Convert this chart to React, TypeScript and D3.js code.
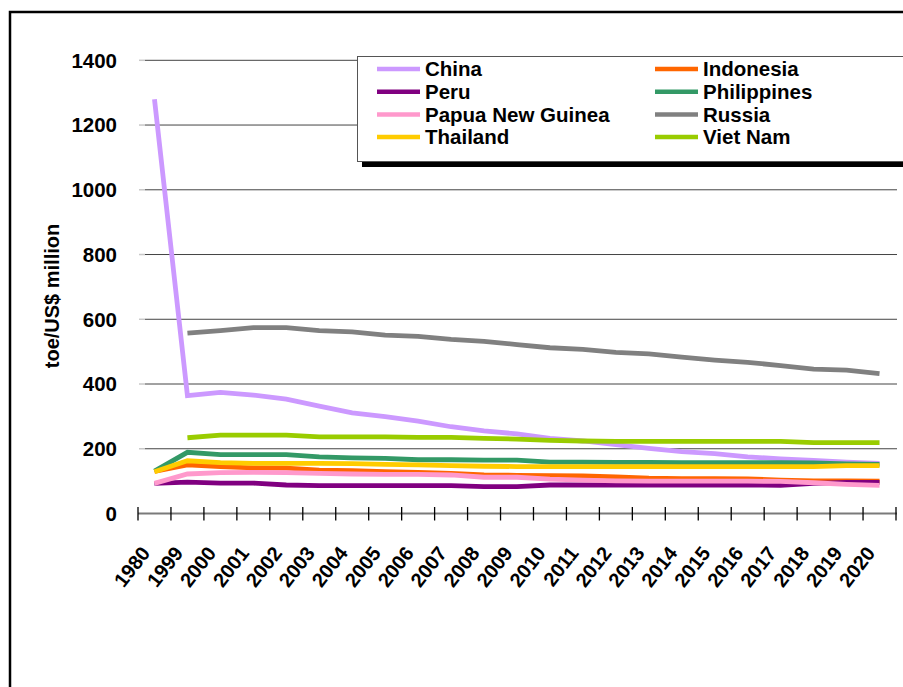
import React from 'react';
import * as d3 from 'd3';

const years = ['1980','1999','2000','2001','2002','2003','2004','2005','2006','2007','2008','2009','2010','2011','2012','2013','2014','2015','2016','2017','2018','2019','2020'];
const yTicks = [0, 200, 400, 600, 800, 1000, 1200, 1400];

const china = [1280, 364, 374, 366, 353, 332, 311, 299, 285, 268, 255, 246, 232, 224, 213, 201, 191, 185, 175, 169, 164, 159, 155];
const indonesia = [130, 150, 145, 141, 140, 134, 132, 129, 127, 124, 119, 118, 117, 116, 113, 109, 108, 108, 107, 103, 101, 101, 100];
const peru = [93, 97, 94, 94, 88, 86, 86, 86, 86, 86, 83, 83, 88, 88, 88, 88, 88, 88, 88, 87, 93, 96, 96];
const philippines = [131, 189, 182, 182, 182, 175, 172, 170, 166, 166, 165, 165, 159, 159, 158, 158, 157, 157, 157, 157, 156, 153, 152];
const papuaNewGuinea = [93, 122, 126, 127, 126, 124, 122, 121, 121, 119, 112, 112, 106, 103, 101, 100, 100, 100, 100, 99, 95, 90, 87];
const russia = [null, 557, 565, 574, 574, 565, 561, 551, 547, 538, 532, 522, 512, 507, 498, 493, 483, 474, 467, 457, 446, 443, 432];
const thailand = [129, 163, 157, 155, 155, 155, 154, 152, 150, 148, 146, 145, 145, 145, 145, 145, 145, 145, 145, 145, 145, 148, 148];
const vietNam = [null, 234, 242, 242, 242, 237, 237, 237, 235, 235, 232, 230, 226, 224, 223, 223, 223, 223, 223, 223, 219, 219, 219];

const seriesNames = ['China', 'Indonesia', 'Peru', 'Philippines', 'Papua New Guinea', 'Russia', 'Thailand', 'Viet Nam'];
const seriesColors = ['#CC99FF', '#FF6600', '#800080', '#339966', '#FF99CC', '#808080', '#FFCC00', '#99CC00'];
const seriesValues = [china, indonesia, peru, philippines, papuaNewGuinea, russia, thailand, vietNam];

const FONT = '"Liberation Sans", Arial, Helvetica, sans-serif';

export default function App() {
  const W = 903, H = 687;
  const x = d3.scaleBand<string>().domain(years).range([138, 896]);
  const y = d3.scaleLinear().domain([0, 1400]).range([513.5, 60.3]);
  const bw = x.bandwidth();
  const cx = (yr: string) => (x(yr) as number) + bw / 2;
  const line = d3.line<{ yr: string; v: number | null }>()
    .defined(d => d.v != null)
    .x(d => cx(d.yr))
    .y(d => y(d.v as number));

  const boundaries = years.map(yr => x(yr) as number).concat([896]);

  return (
    <svg width={W} height={H} style={{ position: 'absolute', left: 0, top: 0, background: '#fff' }} fontFamily={FONT}>
      <rect x={0} y={0} width={W} height={H} fill="#fff" />
      {/* outer frame */}
      <path d={`M10,${H + 5} V12 H${W + 5}`} fill="none" stroke="#000" strokeWidth={2.5} />

      {/* gridlines */}
      {yTicks.filter(t => t > 0).map(t => (
        <g key={t}>
          <line x1={139} x2={145} y1={y(t)} y2={y(t)} stroke="#c8c8c8" strokeWidth={1.5} />
          <line x1={145} x2={897} y1={y(t)} y2={y(t)} stroke="#444" strokeWidth={1} />
        </g>
      ))}
      {/* y tick labels */}
      {yTicks.map(t => (
        <text key={t} x={117} y={y(t)} dy="0.36em" textAnchor="end" fontSize={20.5} fontWeight="bold" fill="#000">{t}</text>
      ))}
      <text transform={`translate(52,296) rotate(-90)`} textAnchor="middle" dy="0.36em" fontSize={20} fontWeight="bold" fill="#000">toe/US$ million</text>

      {/* series lines */}
      {seriesValues.map((vals, i) => (
        <path key={seriesNames[i]} d={line(years.map((yr, j) => ({ yr, v: vals[j] }))) || ''} fill="none" stroke={seriesColors[i]} strokeWidth={4.8} strokeLinejoin="miter" />
      ))}

      {/* x axis */}
      <line x1={138} x2={897} y1={y(0)} y2={y(0)} stroke="#7a7a7a" strokeWidth={2} />
      {boundaries.map((b, i) => (
        <line key={i} x1={b} x2={b} y1={507} y2={520.5} stroke="#000" strokeWidth={1.3} />
      ))}
      {years.map(yr => (
        <text key={yr} transform={`translate(${cx(yr) - 9},${549}) rotate(-52)`} textAnchor="end" dy="0.36em" fontSize={20} fontWeight="bold" fill="#000">{yr}</text>
      ))}

      {/* legend */}
      <rect x={362} y={61} width={600} height={106} fill="#000" />
      <rect x={357.5} y={56.5} width={600} height={105} fill="#fff" stroke="#555" strokeWidth={1} />
      {seriesNames.map((name, i) => {
        const col = i % 2, row = Math.floor(i / 2);
        const lx = col === 0 ? 377 : 655;
        const ly = 69 + row * 22.7;
        return (
          <g key={name}>
            <line x1={lx} x2={lx + 43} y1={ly} y2={ly} stroke={seriesColors[i]} strokeWidth={4.5} />
            <text x={lx + 48} y={ly} dy="0.36em" fontSize={20.5} fontWeight="bold" fill="#000">{name}</text>
          </g>
        );
      })}
    </svg>
  );
}
